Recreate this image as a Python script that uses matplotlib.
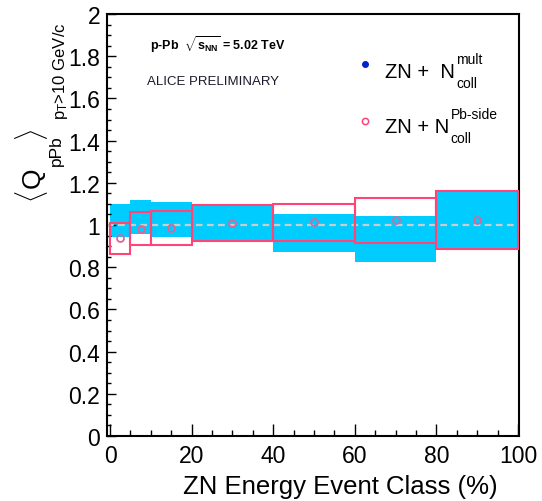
import matplotlib
matplotlib.use("Agg")
import matplotlib.pyplot as plt
from matplotlib.patches import Rectangle
from matplotlib.ticker import MultipleLocator

plt.rcParams['font.family'] = ['Liberation Sans', 'DejaVu Sans']
plt.rcParams['mathtext.fontset'] = 'custom'
plt.rcParams['mathtext.rm'] = 'Liberation Sans'
plt.rcParams['mathtext.it'] = 'Liberation Sans:italic'
plt.rcParams['mathtext.bf'] = 'Liberation Sans:bold'
plt.rcParams['mathtext.sf'] = 'Liberation Sans'

# Event-class bins (ZN energy, %)
bin_lo = [0, 5, 10, 20, 40, 60, 80]
bin_hi = [5, 10, 20, 40, 60, 80, 100]

# ZN + Ncoll^Pb-side: central values and systematic band edges
q_pbside = [0.937, 0.981, 0.986, 1.008, 1.013, 1.024, 1.024]
pbside_lo = [0.861, 0.905, 0.905, 0.923, 0.923, 0.916, 0.886]
pbside_hi = [1.008, 1.063, 1.068, 1.093, 1.101, 1.129, 1.161]

# ZN + Ncoll^mult: systematic band edges
mult_lo = [0.945, 0.957, 0.945, 0.921, 0.873, 0.823, 0.886]
mult_hi = [1.098, 1.120, 1.107, 1.093, 1.053, 1.041, 1.167]

x_ticks = [0, 20, 40, 60, 80, 100]
y_ticks = [0, 0.2, 0.4, 0.6, 0.8, 1.0, 1.2, 1.4, 1.6, 1.8, 2.0]
y_ticklabels = ['0', '0.2', '0.4', '0.6', '0.8', '1', '1.2', '1.4', '1.6',
                '1.8', '2']

CYAN = '#00CCFF'
PINK = '#FF4477'
MARK = '#DD6699'
BLUE = '#0022CC'

W, H = 542, 502
fig = plt.figure(figsize=(W / 100, H / 100), dpi=100)
ax = fig.add_axes([107 / W, 1 - 437 / H, (519 - 107) / W, (437 - 15) / H])
ax.set_xlim(-0.74, 100.25)
ax.set_ylim(0, 2)


def fx(px):
    return px / W


def fy(py):
    return 1 - py / H


# filled bands (mult)
for lo, hi, ylo, yhi in zip(bin_lo, bin_hi, mult_lo, mult_hi):
    ax.add_patch(Rectangle((lo, ylo), hi - lo, yhi - ylo, facecolor=CYAN,
                           edgecolor='none', zorder=1))

# reference line at unity
ax.axhline(1.0, color='#CCCCCC', lw=1.6, ls=(0, (3, 2)), zorder=2)

# open boxes (Pb-side)
for lo, hi, ylo, yhi in zip(bin_lo, bin_hi, pbside_lo, pbside_hi):
    ax.add_patch(Rectangle((lo, ylo), hi - lo, yhi - ylo, facecolor='none',
                           edgecolor=PINK, lw=1.5, zorder=3))

centers = [(a + b) / 2 for a, b in zip(bin_lo, bin_hi)]
ax.plot(centers, q_pbside, ls='none', marker='o', ms=5, mfc='none',
        mec=MARK, mew=1.3, zorder=4)

# axes styling
for s in ax.spines.values():
    s.set_linewidth(1.5)
ax.xaxis.set_minor_locator(MultipleLocator(5))
ax.yaxis.set_minor_locator(MultipleLocator(0.05))
ax.tick_params(axis='x', which='major', direction='in', length=9, width=1,
               labelsize=16.5, pad=6)
ax.tick_params(axis='x', which='minor', direction='in', length=4.5, width=1)
ax.tick_params(axis='y', which='major', direction='in', length=6.5, width=1,
               labelsize=16.5, pad=5)
ax.tick_params(axis='y', which='minor', direction='in', length=3.2, width=1)
ax.set_xticks(x_ticks)
ax.set_xticklabels([str(v) for v in x_ticks])
ax.set_yticks(y_ticks)
ax.set_yticklabels(y_ticklabels)

fig.text(fx(340), fy(487), 'ZN Energy Event Class (%)', fontsize=18.5,
         ha='center', va='center')

# y-axis title, built from pieces (rotated)
fig.text(fx(32), fy(197), r'$\langle$', fontsize=19, rotation=90,
         ha='center', va='center')
fig.text(fx(33), fy(178), 'Q', fontsize=19, rotation=90,
         ha='center', va='center')
fig.text(fx(56), fy(151), 'pPb', fontsize=12.5, rotation=90,
         ha='center', va='center')
fig.text(fx(32), fy(135), r'$\rangle$', fontsize=19, rotation=90,
         ha='center', va='center')
fig.text(fx(60), fy(71), r'p$_{\rm T}$>10 GeV/c', fontsize=12,
         rotation=90, ha='center', va='center')

# annotations
fig.text(fx(150), fy(45),
         r'p-Pb  $\sqrt{\mathbf{s}_{\mathbf{NN}}}$ = 5.02 TeV',
         fontsize=9, fontweight='bold', ha='left', va='center')
fig.text(fx(147), fy(82), 'ALICE PRELIMINARY', fontsize=9.5,
         ha='left', va='center', color='#1a1a2a')

# legend
fig.lines.append(plt.Line2D([fx(365)], [fy(65)], transform=fig.transFigure,
                            marker='o', ms=4, mfc=BLUE, mec=BLUE, ls='none'))
fig.lines.append(plt.Line2D([fx(365)], [fy(122)], transform=fig.transFigure,
                            marker='o', ms=4.5, mfc='none', mec=PINK, mew=1.1,
                            ls='none'))

renderer = fig.canvas.get_renderer()
legend_rows = [('ZN +  N', 'mult', 78), ('ZN + N', 'Pb-side', 133)]
for main, sup, base in legend_rows:
    t = fig.text(fx(385), fy(base), main, fontsize=14.5, ha='left',
                 va='baseline')
    x_end = t.get_window_extent(renderer).x1
    xs = (x_end + 1.5) / W
    fig.text(xs, fy(base - 14), sup, fontsize=10, ha='left', va='baseline')
    fig.text(xs, fy(base + 10), 'coll', fontsize=10, ha='left',
             va='baseline')

fig.savefig('out.png', dpi=100)
